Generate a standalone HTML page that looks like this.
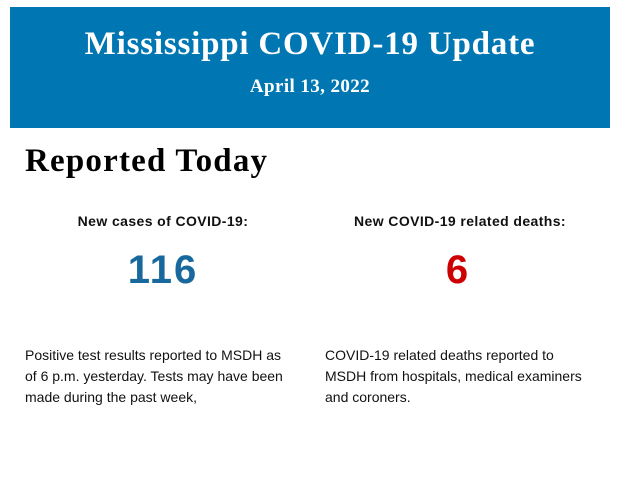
<!DOCTYPE html>
<html><head><style>
body{margin:0;width:620px;height:483px;background:#fff;position:relative;overflow:hidden;font-family:"Liberation Sans",sans-serif;}
.ban{position:absolute;left:10px;top:7px;width:600px;height:121px;background:#0077b3;color:#fff;font-family:"Liberation Serif",serif;font-weight:bold;text-align:center;}
.t{position:absolute;left:0;width:600px;top:18px;font-size:33px;letter-spacing:0.8px;line-height:38px;}
.d{position:absolute;left:0;width:600px;top:69px;font-size:19px;letter-spacing:0.4px;line-height:22px;}
.h{position:absolute;left:25px;top:141px;font-family:"Liberation Serif",serif;font-weight:bold;font-size:33px;letter-spacing:1.2px;line-height:40px;color:#000;}
.lab{position:absolute;top:212px;font-size:14px;letter-spacing:0.4px;font-weight:bold;line-height:18px;text-align:center;width:300px;color:#111;}
.num{position:absolute;top:248px;font-size:40px;font-weight:bold;letter-spacing:2px;line-height:44px;text-align:center;width:300px;}
.p{position:absolute;top:345px;font-size:14px;line-height:21px;color:#111;}
</style></head><body>
<div class="ban"><div class="t">Mississippi COVID-19 Update</div><div class="d">April 13, 2022</div></div>
<div class="h">Reported Today</div>
<div class="lab" style="left:13px">New cases of COVID-19:</div>
<div class="lab" style="left:310px">New COVID-19 related deaths:</div>
<div class="num" style="left:13px;color:#17689c">116</div>
<div class="num" style="left:308px;color:#cc0000">6</div>
<div class="p" style="left:25px;width:268px">Positive test results reported to MSDH as of 6 p.m. yesterday. Tests may have been made during the past week,</div>
<div class="p" style="left:325px;width:268px">COVID-19 related deaths reported to MSDH from hospitals, medical examiners and coroners.</div>
</body></html>
